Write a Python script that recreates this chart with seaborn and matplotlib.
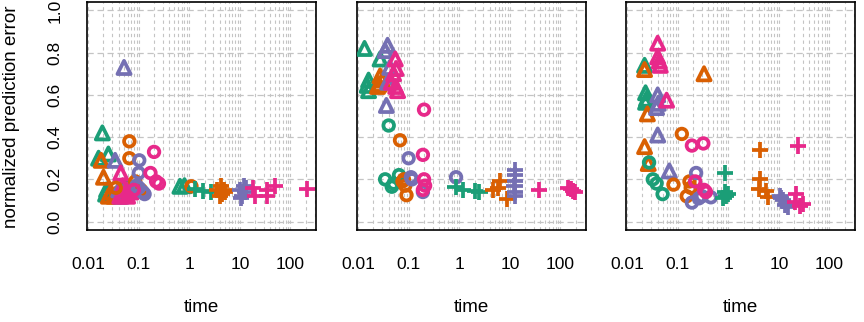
import numpy as np
import pandas as pd
import seaborn as sns
import matplotlib.pyplot as plt
from matplotlib.ticker import LogLocator, FixedLocator, NullFormatter

methods = ["m1", "m2", "m3", "m4"]
colours = ["#1B9E77", "#D95F02", "#7570B3", "#E7298A"]
x_ticks = [0.01, 0.1, 1, 10, 100]
x_tick_labels = ["0.01", "0.1", "1", "10", "100"]
y_ticks = [0.0, 0.2, 0.4, 0.6, 0.8, 1.0]
y_tick_labels = ["0.0", "0.2", "0.4", "0.6", "0.8", "1.0"]

# (method, shape, time, normalized prediction error)
panel1 = [
    ("m1", "triangle", 0.019, 0.42), ("m1", "triangle", 0.016, 0.30), ("m1", "triangle", 0.025, 0.32),
    ("m1", "triangle", 0.023, 0.15), ("m1", "triangle", 0.022, 0.13), ("m1", "triangle", 0.055, 0.17),
    ("m1", "triangle", 0.65, 0.167), ("m1", "triangle", 0.8, 0.17),
    ("m2", "triangle", 0.018, 0.29), ("m2", "triangle", 0.020, 0.21), ("m2", "triangle", 0.025, 0.12),
    ("m2", "triangle", 0.028, 0.14), ("m2", "triangle", 0.032, 0.12), ("m2", "triangle", 0.035, 0.13),
    ("m3", "triangle", 0.051, 0.73), ("m3", "triangle", 0.034, 0.29), ("m3", "triangle", 0.045, 0.12),
    ("m3", "triangle", 0.050, 0.14), ("m3", "triangle", 0.040, 0.15),
    ("m4", "triangle", 0.044, 0.23), ("m4", "triangle", 0.048, 0.17), ("m4", "triangle", 0.050, 0.13),
    ("m4", "triangle", 0.058, 0.15), ("m4", "triangle", 0.060, 0.12), ("m4", "triangle", 0.042, 0.12),
    ("m4", "triangle", 0.070, 0.14),
    ("m2", "circle", 0.065, 0.38), ("m2", "circle", 0.065, 0.30), ("m2", "circle", 0.085, 0.19),
    ("m2", "circle", 0.035, 0.16), ("m2", "circle", 0.11, 0.15), ("m2", "circle", 1.1, 0.167),
    ("m3", "circle", 0.102, 0.29), ("m3", "circle", 0.10, 0.23), ("m3", "circle", 0.10, 0.16),
    ("m3", "circle", 0.12, 0.14), ("m3", "circle", 0.13, 0.13), ("m3", "circle", 0.09, 0.17),
    ("m4", "circle", 0.20, 0.33), ("m4", "circle", 0.17, 0.23), ("m4", "circle", 0.22, 0.19),
    ("m4", "circle", 0.25, 0.18), ("m4", "circle", 0.08, 0.15),
    ("m1", "plus", 1.3, 0.155), ("m1", "plus", 1.9, 0.145), ("m1", "plus", 2.7, 0.14),
    ("m2", "plus", 3.6, 0.15), ("m2", "plus", 4.3, 0.17), ("m2", "plus", 4.5, 0.13),
    ("m2", "plus", 4.8, 0.15), ("m2", "plus", 4.0, 0.12), ("m2", "plus", 5.0, 0.14),
    ("m3", "plus", 10, 0.15), ("m3", "plus", 11, 0.12), ("m3", "plus", 12, 0.17),
    ("m3", "plus", 12.6, 0.14), ("m3", "plus", 13, 0.16), ("m3", "plus", 10.5, 0.11),
    ("m4", "plus", 18, 0.16), ("m4", "plus", 20, 0.12), ("m4", "plus", 34, 0.12),
    ("m4", "plus", 34, 0.15), ("m4", "plus", 49, 0.17), ("m4", "plus", 209, 0.155),
]

panel2 = [
    ("m1", "triangle", 0.0133, 0.82), ("m1", "triangle", 0.027, 0.77), ("m1", "triangle", 0.016, 0.67),
    ("m1", "triangle", 0.015, 0.645), ("m1", "triangle", 0.016, 0.62),
    ("m2", "triangle", 0.027, 0.69), ("m2", "triangle", 0.026, 0.65), ("m2", "triangle", 0.024, 0.64),
    ("m2", "triangle", 0.030, 0.67),
    ("m3", "triangle", 0.038, 0.835), ("m3", "triangle", 0.034, 0.81), ("m3", "triangle", 0.042, 0.73),
    ("m3", "triangle", 0.038, 0.66), ("m3", "triangle", 0.036, 0.55),
    ("m4", "triangle", 0.054, 0.77), ("m4", "triangle", 0.056, 0.725), ("m4", "triangle", 0.045, 0.66),
    ("m4", "triangle", 0.055, 0.64), ("m4", "triangle", 0.060, 0.62), ("m4", "triangle", 0.050, 0.70),
    ("m1", "circle", 0.040, 0.455), ("m1", "circle", 0.034, 0.20), ("m1", "circle", 0.046, 0.165),
    ("m1", "circle", 0.064, 0.22), ("m1", "circle", 0.050, 0.18),
    ("m2", "circle", 0.067, 0.385), ("m2", "circle", 0.075, 0.19), ("m2", "circle", 0.085, 0.17),
    ("m2", "circle", 0.090, 0.125), ("m2", "circle", 0.080, 0.20),
    ("m3", "circle", 0.099, 0.30), ("m3", "circle", 0.11, 0.21), ("m3", "circle", 0.115, 0.20),
    ("m3", "circle", 0.19, 0.14), ("m3", "circle", 0.86, 0.21),
    ("m4", "circle", 0.20, 0.53), ("m4", "circle", 0.19, 0.316), ("m4", "circle", 0.20, 0.20),
    ("m4", "circle", 0.21, 0.17), ("m4", "circle", 0.19, 0.15),
    ("m1", "plus", 0.84, 0.163), ("m1", "plus", 1.2, 0.15), ("m1", "plus", 2.0, 0.145),
    ("m1", "plus", 2.5, 0.14),
    ("m2", "plus", 4.6, 0.15), ("m2", "plus", 6.3, 0.19), ("m2", "plus", 5.9, 0.16),
    ("m2", "plus", 8.6, 0.105),
    ("m3", "plus", 12.6, 0.245), ("m3", "plus", 12.6, 0.22), ("m3", "plus", 12.6, 0.19),
    ("m3", "plus", 12.3, 0.17), ("m3", "plus", 12.8, 0.14), ("m3", "plus", 12.6, 0.12),
    ("m4", "plus", 38, 0.15), ("m4", "plus", 140, 0.16), ("m4", "plus", 160, 0.155),
    ("m4", "plus", 175, 0.145), ("m4", "plus", 190, 0.14),
]

panel3 = [
    ("m1", "triangle", 0.022, 0.74), ("m1", "triangle", 0.023, 0.61), ("m1", "triangle", 0.024, 0.58),
    ("m1", "triangle", 0.023, 0.565),
    ("m2", "triangle", 0.022, 0.72), ("m2", "triangle", 0.33, 0.70), ("m2", "triangle", 0.025, 0.51),
    ("m2", "triangle", 0.022, 0.355), ("m2", "triangle", 0.026, 0.275),
    ("m3", "triangle", 0.040, 0.60), ("m3", "triangle", 0.041, 0.56), ("m3", "triangle", 0.038, 0.54),
    ("m3", "triangle", 0.040, 0.41), ("m3", "triangle", 0.068, 0.24),
    ("m4", "triangle", 0.040, 0.845), ("m4", "triangle", 0.040, 0.78), ("m4", "triangle", 0.043, 0.76),
    ("m4", "triangle", 0.045, 0.74), ("m4", "triangle", 0.060, 0.575),
    ("m1", "circle", 0.027, 0.28), ("m1", "circle", 0.032, 0.20), ("m1", "circle", 0.038, 0.18),
    ("m1", "circle", 0.050, 0.13),
    ("m2", "circle", 0.12, 0.415), ("m2", "circle", 0.082, 0.175), ("m2", "circle", 0.17, 0.19),
    ("m2", "circle", 0.18, 0.16), ("m2", "circle", 0.15, 0.12),
    ("m3", "circle", 0.23, 0.23), ("m3", "circle", 0.19, 0.09), ("m3", "circle", 0.26, 0.11),
    ("m3", "circle", 0.30, 0.12), ("m3", "circle", 0.45, 0.115),
    ("m4", "circle", 0.19, 0.36), ("m4", "circle", 0.32, 0.37), ("m4", "circle", 0.22, 0.19),
    ("m4", "circle", 0.33, 0.15), ("m4", "circle", 0.36, 0.14),
    ("m1", "plus", 0.87, 0.23), ("m1", "plus", 0.85, 0.14), ("m1", "plus", 0.90, 0.12),
    ("m1", "plus", 1.0, 0.13), ("m1", "plus", 0.80, 0.11),
    ("m2", "plus", 4.3, 0.34), ("m2", "plus", 4.3, 0.20), ("m2", "plus", 4.0, 0.155),
    ("m2", "plus", 5.5, 0.145), ("m2", "plus", 6.0, 0.115),
    ("m3", "plus", 10.5, 0.12), ("m3", "plus", 12, 0.10), ("m3", "plus", 15, 0.07),
    ("m3", "plus", 13, 0.08), ("m3", "plus", 11, 0.11),
    ("m4", "plus", 24, 0.36), ("m4", "plus", 22, 0.13), ("m4", "plus", 21, 0.095),
    ("m4", "plus", 26, 0.075), ("m4", "plus", 30, 0.085),
]

panels = [panel1, panel2, panel3]

sns.set_style("white")
plt.rcParams["font.family"] = ["Liberation Sans", "DejaVu Sans"]
plt.rcParams["text.color"] = "black"
plt.rcParams["xtick.color"] = "black"
plt.rcParams["ytick.color"] = "black"
plt.rcParams["axes.labelcolor"] = "black"

W, H = 864, 322
fig = plt.figure(figsize=(W / 100, H / 100), dpi=100)

lefts = [87, 357, 626]
markers = [("triangle", "^", 90), ("circle", "o", 58), ("plus", "+", 135)]

for i, (panel, left) in enumerate(zip(panels, lefts)):
    ax = fig.add_axes([left / W, 92 / H, 229 / W, 228 / H])
    df = pd.DataFrame(panel, columns=["method", "shape", "time", "error"])

    for shape, marker, size in markers:
        sub = df[df["shape"] == shape]
        sns.scatterplot(data=sub, x="time", y="error", hue="method",
                        hue_order=methods, palette=colours, marker=marker,
                        s=size, legend=False, ax=ax, zorder=3)

    # open symbols like R's pch 1/2/3
    for coll in ax.collections:
        fc = coll.get_facecolors()
        coll.set_edgecolors(fc)
        coll.set_facecolors("none")
        coll.set_linewidths(2.7)

    ax.set_xscale("log")
    ax.set_xlim(10 ** -2.025, 10 ** 2.505)
    ax.set_ylim(-0.04, 1.04)

    ax.xaxis.set_major_locator(FixedLocator(x_ticks))
    ax.set_xticklabels(x_tick_labels)
    ax.xaxis.set_minor_locator(LogLocator(base=10, subs=np.arange(1, 10), numticks=20))
    ax.xaxis.set_minor_formatter(NullFormatter())
    ax.set_yticks(y_ticks)

    ax.set_axisbelow(True)
    ax.grid(which="both", axis="x", color="#c4c4c4", linestyle=(0, (3, 3)), linewidth=0.8)
    ax.grid(which="major", axis="y", color="#c4c4c4", linestyle=(0, (5, 3)), linewidth=0.9)

    for sp in ax.spines.values():
        sp.set_color("black")
        sp.set_linewidth(1.2)

    ax.tick_params(axis="x", which="major", direction="out", length=6.5, width=1,
                   color="black", pad=13, labelsize=12.5)
    ax.tick_params(axis="x", which="minor", length=0)
    if i == 0:
        ax.set_yticklabels(y_tick_labels, rotation=90, va="center")
        ax.tick_params(axis="y", direction="out", length=6.5, width=1,
                       color="black", pad=11, labelsize=12.5)
    else:
        ax.tick_params(axis="y", length=0, labelleft=False)

    ax.set_xlabel("")
    ax.set_ylabel("")
    ax.text(0.5, (230 - 308) / 228, "time", transform=ax.transAxes,
            ha="center", va="center", fontsize=13.5)

fig.text(12 / W, (H - 117) / H, "normalized prediction error", rotation=90,
         ha="center", va="center", fontsize=13.5)

fig.savefig("out.png", dpi=100)
